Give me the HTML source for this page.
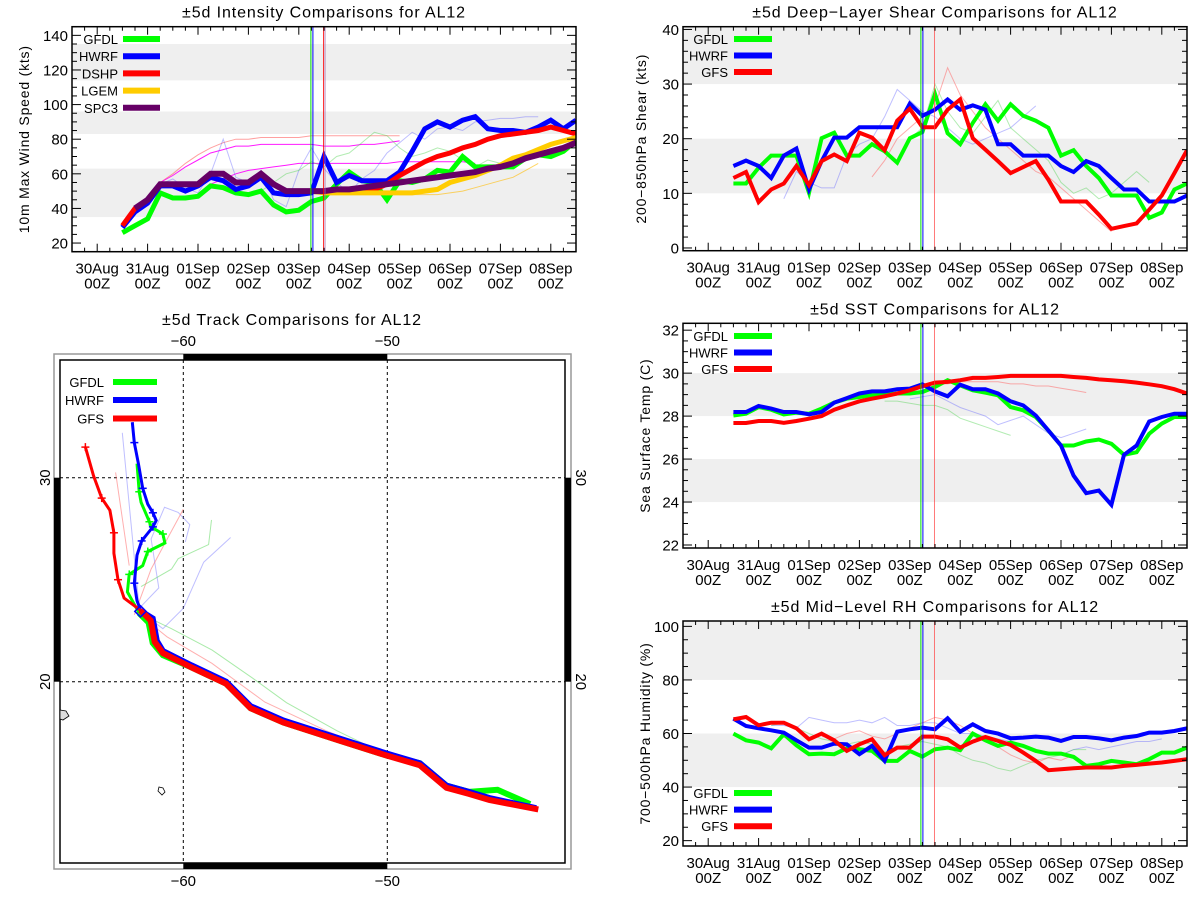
<!DOCTYPE html>
<html><head><meta charset="utf-8"><title>AL12 ±5d comparisons</title>
<style>
html,body{margin:0;padding:0;background:#fff;}
svg{display:block;font-family:"Liberation Sans",sans-serif;}
</style></head>
<body>
<svg id="root" width="1200" height="900" viewBox="0 0 1200 900" xmlns="http://www.w3.org/2000/svg"></svg>
<script>
// ---------- Data ----------
const dayLabels = ['30Aug','31Aug','01Sep','02Sep','03Sep','04Sep','05Sep','06Sep','07Sep','08Sep'];
// 6-hourly values starting 30Aug 12Z
const intGFDL = [26,30,34,49,46,46,47,53,52,49,48,50,42,38,39,44,46,54,61,56,55,45,56,55,57,62,61,70,64,64,64,64,69,71,70,73,79];
const intHWRF = [29,38,43,53,53,50,53,58,56,51,53,58,49,48,48,49,70,55,59,56,56,56,61,73,86,90,87,91,93,86,85,85,84,87,91,86,91];
const intDSHP = [30,40,45,54,54,54,54,60,60,55,55,60,54,50,50,50,50,50,51,51,51,54,59,63,67,70,72,75,77,80,82,83,84,85,87,85,83];
const intLGEM = [null,null,null,null,null,null,null,null,null,null,null,null,null,null,50,50,49,49,49,49,49,49,49,49,50,51,55,57,59,62,65,69,71,74,77,79,81];
const intSPC3 = [null,40,45,54,54,54,54,60,60,55,55,60,54,50,50,50,50,51,51,52,53,54,55,56,57,58,59,60,61,63,64,66,69,71,73,75,78];
const intFaintRed = [null,null,null,55,60,66,71,75,78,80,80,81,81,81,81,82,82,82,82,82,82,82,82];
const intFaintMag = [null,null,null,55,59,64,68,72,74,76,76,77,77,77,77,77,76,76,76,77,77,78,79];
const intFaintMag2 = [null,null,null,null,null,null,null,54,57,60,62,63,64,65,66,66,66,66,66,66,66,66,67,67,67,67,67,67,66];
const intFaintBlue = [null,null,null,54,57,52,49,60,80,58,55,62,45,41,62,75,63,55,49,57,62,72,78,84,80,86,87,85,90,91,92,92,93,93];
const intFaintGreen = [null,null,null,null,null,null,null,null,52,48,49,50,55,60,62,67,64,70,72,78,84,82,75,70,72,75,73,68,64,68,66];
const intFaintOrange = [null,null,null,null,null,null,null,null,null,null,null,null,null,null,null,null,null,null,null,null,null,null,48,48,48,48,49,50,52,54,56,58,62,66];
const intVert = [4.24, 4.28, 4.49, 4.52];

const shrGFDL = [11.8,11.8,14.7,16.9,16.9,16.9,10.1,20.1,21.1,16.9,16.9,19.0,17.7,15.6,20.1,21.2,28.2,21.0,19.0,22.9,26.3,23.3,26.3,24.2,23.3,22.0,16.9,17.9,15.0,12.8,9.6,9.6,9.6,5.5,6.5,10.7,11.8];
const shrHWRF = [15.0,16.0,15.0,12.8,16.9,18.2,10.7,15.9,20.2,20.2,22.1,22.1,22.1,22.1,26.4,24.2,25.3,27.2,25.3,26.1,25.3,19.0,19.0,16.9,16.9,16.9,15.0,13.9,15.9,15.0,12.8,10.7,10.7,8.5,8.5,8.5,9.6];
const shrGFS = [12.8,13.9,8.4,10.7,11.8,15.0,11.5,15.9,17.1,15.9,21.1,20.2,17.9,23.3,25.5,22.1,22.1,25.3,27.2,20.1,18.0,15.9,13.7,14.8,15.9,12.5,8.5,8.5,8.5,6.1,3.5,4.0,4.5,7.0,9.6,13.7,17.9];
const shrFaintBlue = [null,null,null,null,9,14,12,11,11,17,19,20,24,29,27,25,24,22,20,19,20,21,22,24,26];
const shrFaintRed = [null,null,null,null,null,null,null,null,null,null,null,13,16,20,22,24,26,33,28,25,22,20,18,16,14,13,11,9,7,5,3];
const shrFaintGreen = [null,null,null,null,null,null,null,null,null,null,null,null,null,null,20,22,30,25,22,21,24,27,22,20,18,16,12,10,11,9,10,12,14,12];
const rightVert = [4.22, 4.26, 4.49];

const sstGFDL = [28.03,28.11,28.42,28.30,28.08,28.16,28.11,28.35,28.63,28.81,28.89,28.97,29.0,29.05,29.05,29.12,29.36,29.67,29.43,29.2,29.09,28.97,28.42,28.27,27.96,27.33,26.63,26.63,26.82,26.91,26.71,26.2,26.32,27.18,27.65,27.96,27.96];
const sstHWRF = [28.19,28.19,28.47,28.35,28.19,28.19,28.08,28.19,28.63,28.84,29.05,29.15,29.15,29.25,29.28,29.48,29.15,28.92,29.46,29.25,29.25,29.05,28.69,28.5,28.03,27.33,26.63,25.23,24.41,24.53,23.87,26.2,26.63,27.75,27.96,28.11,28.11];
const sstGFS = [27.68,27.68,27.77,27.77,27.69,27.77,27.88,28.0,28.3,28.5,28.69,28.81,28.92,29.05,29.2,29.39,29.56,29.59,29.67,29.78,29.78,29.82,29.87,29.87,29.87,29.87,29.87,29.82,29.78,29.71,29.67,29.62,29.56,29.48,29.39,29.25,29.05];
const sstFaintBlue = [null,null,null,null,null,null,null,null,null,null,null,null,null,null,28.8,28.9,29.0,28.7,28.4,28.2,28.0,27.6,27.8,28.0,27.6,27.2,27.0,27.2,27.4];
const sstFaintGreen = [null,null,null,null,null,null,null,null,null,null,null,null,28.7,28.7,28.6,28.5,28.5,28.3,27.9,27.7,27.5,27.3,27.1];
const sstFaintRed = [null,null,null,null,null,null,null,null,null,null,null,null,null,null,null,null,29.5,29.5,29.6,29.6,29.6,29.6,29.5,29.5,29.4,29.4,29.3,29.2,29.1];

const rhGFDL = [59.95,57.47,56.6,54.49,59.7,55.61,52.26,52.5,52.26,54.49,54.12,53.5,49.78,49.78,53.5,51.39,54.12,54.74,53.75,59.95,57.47,55.36,56.6,55.36,53.5,52.5,52.5,51.27,47.92,48.54,49.78,49.16,48.54,50.4,52.88,52.88,54.74];
const rhHWRF = [65.53,62.8,61.94,61.19,60.32,57.47,54.74,54.74,56.23,55.98,52.26,55.36,49.78,60.69,61.56,62.18,61.56,65.66,60.69,63.42,60.94,59.95,58.21,58.46,58.83,58.46,57.22,58.71,58.71,58.21,57.47,58.46,59.08,60.32,60.32,60.94,61.94];
const rhGFS = [65.29,66.15,63.05,64.04,64.04,61.94,57.84,59.95,57.47,53.5,55.98,57.84,51.89,54.74,54.74,58.83,58.83,57.84,54.74,56.97,58.71,57.22,55.73,52.88,49.78,46.3,46.67,47.05,47.3,47.3,47.3,47.92,48.29,48.78,49.16,49.78,50.4];
const rhFaintBlue = [null,null,null,63,63,62,66,65,64,64,65,64,66,63,63,64,64,62,60,60,59,58,57,55,54,53,52,54,55,54,55,56,57,57,58];
const rhFaintRed = [null,null,null,null,null,null,null,59,58,60,61,59,58,60,62,64,66,65,63,60,58,55,52,50,49,51,50,52];
const rhFaintGreen = [null,null,null,63,64,62,60,58,57,56,57,56,53,55,56,57,56,55,52,50,49,47,46,48,50,51,52,54,54];

const trkGFSLon = [-42.6,-45.0,-46.0,-47.1,-48.4,-50.1,-52.3,-55.1,-56.7,-57.9,-59.6,-61.0,-61.4,-61.6,-62.1,-62.9,-63.2,-63.4,-63.4,-63.6,-64.0,-64.4,-64.8];
const trkGFSLat = [13.74,14.2,14.5,14.8,15.9,16.4,17.1,18.0,18.7,19.9,20.7,21.4,21.95,23.0,23.5,24.1,25.0,26.3,27.3,28.4,29.0,30.1,31.5];
const trkHWRFLon = [-42.7,-45.0,-46.0,-47.1,-48.4,-50.1,-52.3,-55.1,-56.7,-57.9,-59.6,-61.0,-61.3,-61.5,-62.07,-62.27,-62.40,-62.27,-62.04,-61.77,-61.49,-61.33,-61.49,-61.74,-61.99,-62.2,-62.4,-62.5];
const trkHWRFLat = [13.8,14.3,14.6,14.9,16.0,16.5,17.2,18.1,18.8,20.0,20.8,21.5,22.0,23.1,23.45,23.97,24.83,26.2,26.9,27.24,27.59,27.9,28.28,28.7,29.48,30.69,31.72,32.72];
const trkGFDLLon = [-43.0,-44.6,-46.0,-47.1,-48.4,-50.1,-52.3,-55.1,-56.7,-57.9,-59.6,-61.0,-61.5,-61.7,-62.16,-62.74,-62.65,-61.99,-61.74,-60.9,-61.0,-61.58,-61.66,-62.07,-62.16,-62.27];
const trkGFDLLat = [14.0,14.7,14.6,14.9,16.0,16.4,17.1,18.0,18.7,19.9,20.7,21.3,21.9,22.9,23.36,24.4,25.26,25.69,26.38,26.8,27.24,27.59,27.84,28.79,29.31,30.69];
const trkFaintG1Lon = [-62.16,-60.58,-58.59,-56.6,-54.94,-52.45,-50.3];
const trkFaintG1Lat = [23.36,22.6,21.55,20.17,18.97,17.59,16.55];
const trkFaintG2Lon = [-62.07,-60.58,-60.25,-58.76,-58.62];
const trkFaintG2Lat = [24.66,25.52,26.03,26.72,27.93];
const trkFaintB1Lon = [-62.2,-61.0,-60.0,-59.0,-57.68];
const trkFaintB1Lat = [23.5,22.6,23.6,25.86,27.07];
const trkFaintB2Lon = [-62.16,-61.2,-61.58,-60.92,-60.25,-59.68,-59.9];
const trkFaintB2Lat = [23.6,24.6,27.0,28.55,28.3,27.7,26.85];
const trkFaintB3Lon = [-62.16,-62.99];
const trkFaintB3Lat = [23.6,32.2];
const trkFaintR1Lon = [-62.4,-61.58,-60.75,-60.0];
const trkFaintR1Lat = [23.28,25.52,27.07,28.45];
const trkFaintR2Lon = [-62.65,-63.32];
const trkFaintR2Lat = [25.69,30.26];
const trkFaintR3Lon = [-62.3,-60.8,-58.6,-56.0,-53.0,-50.5];
const trkFaintR3Lat = [23.4,22.2,20.9,19.0,17.6,16.6];

// ---------- Helpers ----------
const NS = 'http://www.w3.org/2000/svg';
const root = document.getElementById('root');
function mk(tag, attrs, parent) {
  const e = document.createElementNS(NS, tag);
  for (const k in attrs) e.setAttribute(k, attrs[k]);
  (parent || root).appendChild(e);
  return e;
}
function txt(str, attrs, parent) {
  const t = mk('text', attrs, parent);
  t.textContent = str;
  return t;
}
let clipId = 0;

function timePanel(cfg) {
  const g = mk('g', {});
  
  
  const L = cfg.x0, R = cfg.x1, T = cfg.y0, B = cfg.y1;
  const xs = d => L + (d + 0.5) / 10 * (R - L);
  const ys = v => B - (v - cfg.ymin) / (cfg.ymax - cfg.ymin) * (B - T);
  const cid = 'clip' + (clipId++);
  const cp = mk('clipPath', {id: cid}, g);
  mk('rect', {x: L, y: T, width: R - L, height: B - T}, cp);
  // bands
  for (const b of cfg.bands) {
    const r = mk('rect', {x: L, y: ys(b[1]), width: R - L, height: ys(b[0]) - ys(b[1]), fill: '#efefef', 'clip-path': 'url(#' + cid + ')'}, g);
    
    
  }
  function series(vals, color, w, op, nm) {
    const pts = [];
    vals.forEach((v, i) => { if (v !== null) pts.push(xs(0.5 + 0.25 * i).toFixed(1) + ',' + ys(v).toFixed(1)); });
    const p = mk('polyline', {points: pts.join(' '), fill: 'none', stroke: color, 'stroke-width': w, 'stroke-opacity': op, 'stroke-linejoin': 'miter', 'clip-path': 'url(#' + cid + ')'}, g);
    
    
  }
  for (const f of cfg.faint) series(f[0], f[1], 1, f[2], 'previous-forecast-line');
  for (const s of cfg.series) series(s.v, s.c, s.w, 1, s.n + '-line');
  // vertical init lines
  cfg.vert.forEach((d, i) => {
    const vl = mk('line', {x1: xs(d), x2: xs(d), y1: T, y2: B, stroke: cfg.vcol[i], 'stroke-width': 1, 'stroke-opacity': cfg.vop[i]}, g);
    
    
  });
  // frame
  const fr = mk('rect', {x: L, y: T, width: R - L, height: B - T, fill: 'none', stroke: '#000', 'stroke-width': 1.5}, g);
  
  
  // x ticks
  for (let k = 0; k <= 40; k++) {
    const d = -0.5 + k * 0.25;
    const x = xs(d);
    const major = Math.abs(d - Math.round(d)) < 1e-6;
    const len = major ? 8 : 4;
    mk('line', {x1: x, x2: x, y1: B, y2: B - len, stroke: '#000', 'stroke-width': 1}, g);
    mk('line', {x1: x, x2: x, y1: T, y2: T + len, stroke: '#000', 'stroke-width': 1}, g);
  }
  dayLabels.forEach((lab, i) => {
    const x = xs(i);
    const t1 = txt(lab, {x: x, y: B + 22, 'font-size': 15, 'text-anchor': 'middle', fill: '#000'}, g);
    
    
    const t2 = txt('00Z', {x: x, y: B + 37, 'font-size': 15, 'text-anchor': 'middle', fill: '#000'}, g);
    
    
  });
  // y ticks
  for (let v = cfg.minorStart; v <= cfg.ymax + 1e-6; v += cfg.minor) {
    if (v < cfg.ymin) continue;
    const y = ys(v);
    const major = Math.abs(((v - cfg.tickStart) / cfg.major) - Math.round((v - cfg.tickStart) / cfg.major)) < 1e-6;
    const len = major ? 9 : 5;
    mk('line', {x1: L, x2: L + len, y1: y, y2: y, stroke: '#000', 'stroke-width': 1}, g);
    mk('line', {x1: R, x2: R - len, y1: y, y2: y, stroke: '#000', 'stroke-width': 1}, g);
  }
  for (let v = cfg.tickStart; v <= cfg.tickEnd + 1e-6; v += cfg.major) {
    const t = txt(String(v), {x: L - 4, y: ys(v) + 5.5, 'font-size': 15, 'text-anchor': 'end', fill: '#000'}, g);
    
    
  }
  // titles
  const tt = txt(cfg.title, {x: (L + R) / 2, y: T - 9, 'font-size': 16, 'text-anchor': 'middle', 'letter-spacing': 0.9, fill: '#000'}, g);
  
  
  const yx = cfg.ytx, yy = (T + B) / 2;
  const yt = txt(cfg.ytitle, {x: yx, y: yy, 'font-size': 14, 'text-anchor': 'middle', 'letter-spacing': 0.8, transform: 'rotate(-90 ' + yx + ' ' + yy + ')', fill: '#000'}, g);
  
  
  // legend
  cfg.series.forEach((s, i) => {
    if (!s.leg) return;
    const ly = cfg.legY + i * cfg.legDy;
    const lg = mk('g', {}, g);
    
    
    txt(s.n, {x: cfg.legTx, y: ly + 5, 'font-size': 13, 'text-anchor': 'end', fill: '#000'}, lg);
    mk('line', {x1: cfg.legX0, x2: cfg.legX1, y1: ly, y2: ly, stroke: s.c, 'stroke-width': 6}, lg);
  });
}

// ---------- Panels ----------
timePanel({name: 'intensity-chart', x0: 72, x1: 576, y0: 26.7, y1: 251.7, ymin: 15, ymax: 145,
  bands: [[35, 63], [83, 96], [114, 135]], tickStart: 20, tickEnd: 140, major: 20, minor: 5, minorStart: 15,
  title: '±5d Intensity Comparisons for AL12', ytitle: '10m Max Wind Speed (kts)', ytx: 29,
  faint: [[intFaintRed, '#ff6060', 0.6], [intFaintMag, '#ff00ff', 0.9], [intFaintMag2, '#ff00ff', 0.9], [intFaintBlue, '#6060ff', 0.4], [intFaintGreen, '#40d040', 0.4], [intFaintOrange, '#ffbb00', 0.6]],
  series: [
    {v: intGFDL, c: '#00ff00', w: 5, n: 'GFDL', leg: 1},
    {v: intHWRF, c: '#0000ff', w: 5, n: 'HWRF', leg: 1},
    {v: intDSHP, c: '#ff0000', w: 5, n: 'DSHP', leg: 1},
    {v: intLGEM, c: '#ffcc00', w: 5, n: 'LGEM', leg: 1},
    {v: intSPC3, c: '#660066', w: 6, n: 'SPC3', leg: 1}],
  vert: intVert, vcol: ['#00dd00', '#0000ff', '#ff0000', '#aa66aa'], vop: [1, 1, 0.8, 0.8],
  legY: 39, legDy: 17.2, legTx: 118, legX0: 123, legX1: 160});

timePanel({name: 'shear-chart', x0: 683, x1: 1187, y0: 26.7, y1: 250.7, ymin: -0.5, ymax: 40.5,
  bands: [[10, 20], [30, 40.5]], tickStart: 0, tickEnd: 40, major: 10, minor: 2, minorStart: 0,
  title: '±5d Deep−Layer Shear Comparisons for AL12', ytitle: '200−850hPa Shear (kts)', ytx: 646,
  faint: [[shrFaintBlue, '#6060ff', 0.4], [shrFaintRed, '#ff6060', 0.5], [shrFaintGreen, '#40d040', 0.4]],
  series: [
    {v: shrGFDL, c: '#00ff00', w: 4, n: 'GFDL', leg: 1},
    {v: shrHWRF, c: '#0000ff', w: 4, n: 'HWRF', leg: 1},
    {v: shrGFS, c: '#ff0000', w: 4, n: 'GFS', leg: 1}],
  vert: rightVert, vcol: ['#00dd00', '#0000ff', '#ff4040'], vop: [1, 1, 0.7],
  legY: 39, legDy: 16.5, legTx: 728, legX0: 734, legX1: 772});

timePanel({name: 'sst-chart', x0: 683, x1: 1187, y0: 323.3, y1: 548, ymin: 21.86, ymax: 32.32,
  bands: [[24, 26], [28, 30]], tickStart: 22, tickEnd: 32, major: 2, minor: 0.5, minorStart: 22,
  title: '±5d SST Comparisons for AL12', ytitle: 'Sea Surface Temp (C)', ytx: 650,
  faint: [[sstFaintBlue, '#6060ff', 0.4], [sstFaintGreen, '#40d040', 0.4], [sstFaintRed, '#ff6060', 0.5]],
  series: [
    {v: sstGFDL, c: '#00ff00', w: 4, n: 'GFDL', leg: 1},
    {v: sstHWRF, c: '#0000ff', w: 4, n: 'HWRF', leg: 1},
    {v: sstGFS, c: '#ff0000', w: 4, n: 'GFS', leg: 1}],
  vert: rightVert, vcol: ['#00dd00', '#0000ff', '#ff4040'], vop: [1, 1, 0.7],
  legY: 336, legDy: 16.5, legTx: 728, legX0: 734, legX1: 772});

timePanel({name: 'rh-chart', x0: 683, x1: 1187, y0: 621, y1: 846, ymin: 18, ymax: 102,
  bands: [[40, 60], [80, 102]], tickStart: 20, tickEnd: 100, major: 20, minor: 5, minorStart: 20,
  title: '±5d Mid−Level RH Comparisons for AL12', ytitle: '700−500hPa Humidity (%)', ytx: 650,
  faint: [[rhFaintBlue, '#6060ff', 0.4], [rhFaintRed, '#ff6060', 0.5], [rhFaintGreen, '#40d040', 0.4]],
  series: [
    {v: rhGFDL, c: '#00ff00', w: 4, n: 'GFDL', leg: 1},
    {v: rhHWRF, c: '#0000ff', w: 4, n: 'HWRF', leg: 1},
    {v: rhGFS, c: '#ff0000', w: 4, n: 'GFS', leg: 1}],
  vert: rightVert, vcol: ['#00dd00', '#0000ff', '#ff4040'], vop: [1, 1, 0.7],
  legY: 793, legDy: 16.6, legTx: 728, legX0: 734, legX1: 772});

// ---------- Track map ----------
(function () {
  const g = mk('g', {});
  
  
  const lonX = lon => 183.3 + (lon + 60) * 20.4;
  const latY = lat => 681.7 - (lat - 20) * 20.4;
  const iL = 60, iR = 565, iT = 360, iB = 863;
  const tt = txt('±5d Track Comparisons for AL12', {x: 292, y: 325, 'font-size': 16, 'text-anchor': 'middle', 'letter-spacing': 0.9, fill: '#000'}, g);
  
  
  const cp = mk('clipPath', {id: 'mapclip'}, g);
  mk('rect', {x: iL, y: iT, width: iR - iL, height: iB - iT}, cp);
  // outer grey frame and black bars
  mk('rect', {x: 54, y: 354, width: 517, height: 515, fill: 'none', stroke: '#999', 'stroke-width': 1.5}, g);
  const bars = [[lonX(-60), 354, lonX(-50) - lonX(-60), 6], [lonX(-60), iB, lonX(-50) - lonX(-60), 6], [54, latY(30), 6, latY(20) - latY(30)], [iR, latY(30), 6, latY(20) - latY(30)]];
  for (const b of bars) {
    const r = mk('rect', {x: b[0], y: b[1], width: b[2], height: b[3], fill: '#000'}, g);
    
    
  }
  const fr = mk('rect', {x: iL, y: iT, width: iR - iL, height: iB - iT, fill: 'none', stroke: '#000', 'stroke-width': 1.5}, g);
  
  
  // grid
  for (const lon of [-60, -50]) {
    const l = mk('line', {x1: lonX(lon), x2: lonX(lon), y1: iT, y2: iB, stroke: '#000', 'stroke-width': 1, 'stroke-dasharray': '3,3'}, g);
    
    
    for (const yy of [346, 886]) {
      const t = txt('−' + Math.abs(lon), {x: lonX(lon), y: yy, 'font-size': 15, 'text-anchor': 'middle', fill: '#000'}, g);
      
      
    }
  }
  for (const lat of [30, 20]) {
    const l = mk('line', {x1: iL, x2: iR, y1: latY(lat), y2: latY(lat), stroke: '#000', 'stroke-width': 1, 'stroke-dasharray': '3,3'}, g);
    
    
    const t1 = txt(String(lat), {x: 0, y: 0, 'font-size': 15, 'text-anchor': 'middle', fill: '#000', transform: 'translate(50 ' + latY(lat) + ') rotate(-90)'}, g);
    
    
    const t2 = txt(String(lat), {x: 0, y: 0, 'font-size': 15, 'text-anchor': 'middle', fill: '#000', transform: 'translate(576 ' + latY(lat) + ') rotate(90)'}, g);
    
    
  }
  // islands
  const is1 = mk('path', {d: 'M60 710 L66 711 L69 716 L63 720 L60 719 Z', fill: '#ddd', stroke: '#000', 'stroke-width': 0.8}, g);
  
  
  const is2 = mk('path', {d: 'M159 787 L163 788 L165 792 L162 795 L158 791 Z', fill: 'none', stroke: '#000', 'stroke-width': 0.8}, g);
  
  
  function track(lons, lats, color, w, op, nm) {
    const pts = lons.map((lo, i) => lonX(lo).toFixed(1) + ',' + latY(lats[i]).toFixed(1)).join(' ');
    const p = mk('polyline', {points: pts, fill: 'none', stroke: color, 'stroke-width': w, 'stroke-opacity': op, 'clip-path': 'url(#mapclip)'}, g);
    
    
  }
  track(trkFaintG1Lon, trkFaintG1Lat, '#40d040', 1, 0.45, 'previous-track');
  track(trkFaintG2Lon, trkFaintG2Lat, '#40d040', 1, 0.45, 'previous-track');
  track(trkFaintB1Lon, trkFaintB1Lat, '#6060ff', 1, 0.4, 'previous-track');
  track(trkFaintB2Lon, trkFaintB2Lat, '#6060ff', 1, 0.4, 'previous-track');
  track(trkFaintB3Lon, trkFaintB3Lat, '#6060ff', 1, 0.4, 'previous-track');
  track(trkFaintR1Lon, trkFaintR1Lat, '#ff6060', 1, 0.5, 'previous-track');
  track(trkFaintR2Lon, trkFaintR2Lat, '#ff6060', 1, 0.5, 'previous-track');
  track(trkFaintR3Lon, trkFaintR3Lat, '#ff6060', 1, 0.5, 'previous-track');
  // main tracks: thick observed/early part, thinner forecast part
  function mainTrack(lons, lats, color, split, nm) {
    track(lons.slice(0, split + 1), lats.slice(0, split + 1), color, 6, 1, nm + '-track-past');
    track(lons.slice(split), lats.slice(split), color, 3, 1, nm + '-track-forecast');
    for (let i = split + 2; i < lons.length; i += 2) {
      const x = lonX(lons[i]), y = latY(lats[i]);
      mk('line', {x1: x - 4, x2: x + 4, y1: y, y2: y, stroke: color, 'stroke-width': 1.5}, g);
      mk('line', {x1: x, x2: x, y1: y - 4, y2: y + 4, stroke: color, 'stroke-width': 1.5}, g);
    }
  }
  mainTrack(trkGFDLLon, trkGFDLLat, '#00ff00', 14, 'GFDL');
  mainTrack(trkHWRFLon, trkHWRFLat, '#0000ff', 14, 'HWRF');
  mainTrack(trkGFSLon, trkGFSLat, '#ff0000', 14, 'GFS');
  const dm = mk('rect', {x: lonX(-62.1) - 4, y: latY(23.45) - 4, width: 8, height: 8, fill: 'none', stroke: '#0000ff', 'stroke-width': 1.5, transform: 'rotate(45 ' + lonX(-62.1) + ' ' + latY(23.45) + ')'}, g);
  
  
  // legend
  [['GFDL', '#00ff00', 382], ['HWRF', '#0000ff', 400], ['GFS', '#ff0000', 418.5]].forEach(e => {
    const lg = mk('g', {}, g);
    
    
    txt(e[0], {x: 104, y: e[2] + 5, 'font-size': 13, 'text-anchor': 'end', fill: '#000'}, lg);
    mk('line', {x1: 113, x2: 157, y1: e[2], y2: e[2], stroke: e[1], 'stroke-width': 6}, lg);
  });
})();
</script>
</body></html>
